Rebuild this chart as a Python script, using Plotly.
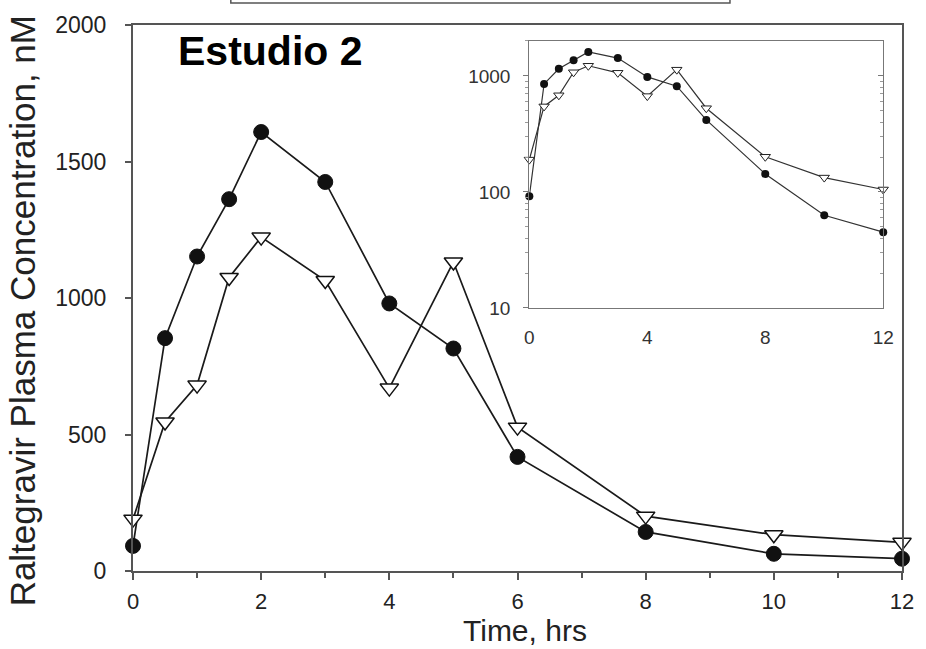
import plotly.graph_objects as go

# ---- data ----
time_hrs = [0, 0.5, 1, 1.5, 2, 3, 4, 5, 6, 8, 10, 12]
conc_circles = [92, 853, 1152, 1362, 1608, 1425, 980, 815, 418, 143, 63, 45]
conc_triangles = [190, 546, 681, 1075, 1223, 1064, 670, 1132, 527, 201, 133, 105]

main_yticks = [0, 500, 1000, 1500, 2000]
main_xticks = [0, 2, 4, 6, 8, 10, 12]
inset_xticks = [0, 4, 8, 12]
inset_yticks = [10, 100, 1000]
inset_minor = [20, 30, 40, 50, 60, 70, 80, 90, 200, 300, 400, 500, 600, 700, 800, 900, 2000]

title_text = "Estudio 2"
ytitle = "Raltegravir Plasma Concentration, nM"
xtitle = "Time, hrs"

FONT = "Liberation Sans, Arial, sans-serif"
LINE = "#1a1a1a"
AX = "#555555"

fig = go.Figure()

# main panel
fig.add_trace(go.Scatter(
    x=time_hrs, y=conc_circles, mode="lines+markers", xaxis="x", yaxis="y",
    line=dict(color=LINE, width=1.7),
    marker=dict(symbol="circle", size=15, color="#111111", line=dict(color="#111111", width=1)),
    showlegend=False, cliponaxis=False))
fig.add_trace(go.Scatter(
    x=time_hrs, y=conc_triangles, mode="lines+markers", xaxis="x", yaxis="y",
    line=dict(color=LINE, width=1.7),
    marker=dict(symbol="triangle-down", size=16, color="white", line=dict(color="#111111", width=1.5)),
    showlegend=False, cliponaxis=False))

# inset panel
fig.add_trace(go.Scatter(
    x=time_hrs, y=conc_circles, mode="lines+markers", xaxis="x2", yaxis="y2",
    line=dict(color="#333333", width=1.2),
    marker=dict(symbol="circle", size=8, color="#111111"),
    showlegend=False, cliponaxis=False))
fig.add_trace(go.Scatter(
    x=time_hrs, y=conc_triangles, mode="lines+markers", xaxis="x2", yaxis="y2",
    line=dict(color="#333333", width=1.2),
    marker=dict(symbol="triangle-down", size=9, color="white", line=dict(color="#222222", width=1)),
    showlegend=False, cliponaxis=False))
# dummy trace to show right-side inner ticks of the inset
fig.add_trace(go.Scatter(x=[None], y=[None], xaxis="x2", yaxis="y3", showlegend=False, hoverinfo="skip"))

fig.update_layout(
    width=926, height=649,
    margin=dict(l=133, r=15, t=25, b=78),
    paper_bgcolor="white", plot_bgcolor="white",
    font=dict(family=FONT, color="#222222"),
    xaxis=dict(
        domain=[0, 1], range=[0, 12], tickvals=main_xticks, ticks="outside", ticklen=7, tickwidth=1.5,
        tickcolor=AX, showline=True, linecolor=AX, linewidth=2, mirror=True, showgrid=False,
        zeroline=False, tickfont=dict(size=22, color="#222222"), ticklabelstandoff=3,
        minor=dict(ticks="outside", dtick=1, tick0=0, ticklen=5, tickwidth=1.5, tickcolor=AX),
        anchor="y"),
    yaxis=dict(
        domain=[0, 1], range=[0, 2000], tickvals=main_yticks, ticks="outside", ticklen=6, tickwidth=1.5,
        tickcolor=AX, showline=True, linecolor=AX, linewidth=2, mirror=True, showgrid=False,
        zeroline=False, tickfont=dict(size=23, color="#222222"), ticklabelstandoff=14,
        anchor="x"),
    xaxis2=dict(
        domain=[0.5154, 0.9756], range=[0, 12], tickvals=inset_xticks, ticks="",
        showline=True, linecolor="#777777", linewidth=1.2, mirror=True, showgrid=False,
        zeroline=False, tickfont=dict(size=19, color="#333333"), ticklabelstandoff=12,
        anchor="y2"),
    yaxis2=dict(
        domain=[0.4817, 0.9707], type="log", range=[1, 3.301], tickvals=inset_yticks,
        ticktext=["10", "100", "1000"], ticks="outside", ticklen=5, tickwidth=1, tickcolor="#777777",
        showline=True, linecolor="#777777", linewidth=1.2, mirror=True, showgrid=False,
        zeroline=False, tickfont=dict(size=19, color="#333333"), ticklabelstandoff=9,
        minor=dict(ticks="outside", tickvals=inset_minor, ticklen=3, tickwidth=1, tickcolor="#999999"),
        anchor="x2"),
    yaxis3=dict(
        overlaying="y2", side="right", anchor="x2", type="log", range=[1, 3.301],
        tickvals=inset_yticks, ticks="inside", ticklen=5, tickwidth=1, tickcolor="#777777",
        showticklabels=False, showline=False, showgrid=False, zeroline=False,
        minor=dict(ticks="inside", tickvals=inset_minor, ticklen=3, tickwidth=1, tickcolor="#999999")),
    annotations=[
        dict(text="<b>" + title_text + "</b>", xref="paper", yref="paper", x=0.179, y=0.953,
             xanchor="center", yanchor="middle", showarrow=False,
             font=dict(size=41, color="black", family=FONT)),
        dict(text=ytitle, xref="paper", yref="paper", x=-0.144, y=0.476, textangle=-90,
             xanchor="center", yanchor="middle", showarrow=False,
             font=dict(size=35, color="#222222", family=FONT)),
        dict(text=xtitle, xref="paper", yref="paper", x=0.510, y=-0.1425, xanchor="center",
             yanchor="bottom", showarrow=False, font=dict(size=30, color="#222222", family=FONT)),
    ],
    shapes=[
        dict(type="rect", xref="paper", yref="paper", x0=0.1272, x1=0.7763, y0=1.0403, y1=1.1,
             line=dict(color="#555555", width=1.5), fillcolor="rgba(0,0,0,0)"),
    ],
)

fig.write_html("out.html")
